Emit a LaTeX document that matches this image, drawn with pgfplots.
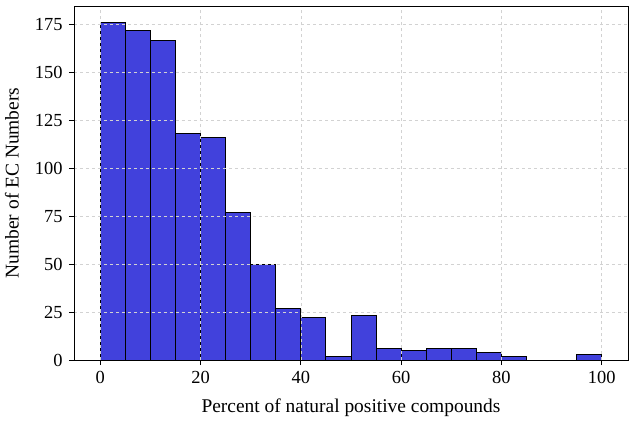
\documentclass[border=0pt]{standalone}
\usepackage{fontspec}
\setmainfont{Liberation Serif}
\usepackage{pgfplots}
\pgfplotsset{compat=1.18}
\definecolor{barblue}{RGB}{65,65,220}
\begin{document}
\begin{tikzpicture}
\begin{axis}[
    scale only axis,
    width=554bp, height=354bp,
    xmin=-5.25, xmax=105.25,
    ymin=0, ymax=184.8,
    xtick={0,20,...,100},
    ytick={0,25,...,175},
    tick align=outside, tick pos=left,
    major tick length=5bp,
    tick style={black, line width=0.9bp},
    axis line style={line width=0.9bp},
    grid=major,
    major grid style={dashed, gray!35, line width=0.7bp},
    axis on top,
    ticklabel style={font=\fontsize{18.5}{20}\selectfont},
    xticklabel style={yshift=-3bp},
    yticklabel style={xshift=-3bp},
    label style={font=\fontsize{19.5}{22}\selectfont},
    /pgf/number format/assume math mode=true,
    xlabel={Percent of natural positive compounds},
    ylabel={Number of EC Numbers},
    xlabel style={at={(axis description cs:0.5,-0.147)}, anchor=base},
    ylabel style={at={(axis description cs:-0.112,0.5)}, anchor=center},
]
\addplot[ybar interval, fill=barblue, draw=black, line width=1bp] coordinates {
    (0,176) (5,172) (10,167) (15,118) (20,116) (25,77) (30,50) (35,27)
    (40,22) (45,2) (50,23) (55,6) (60,5) (65,6) (70,6) (75,4)
    (80,2) (85,0) (90,0) (95,3) (100,3)
};
\end{axis}
\pgfresetboundingbox
\path ([xshift=-74bp,yshift=-61bp]current axis.south west) rectangle ([xshift=5bp,yshift=6bp]current axis.north east);
\end{tikzpicture}
\end{document}
